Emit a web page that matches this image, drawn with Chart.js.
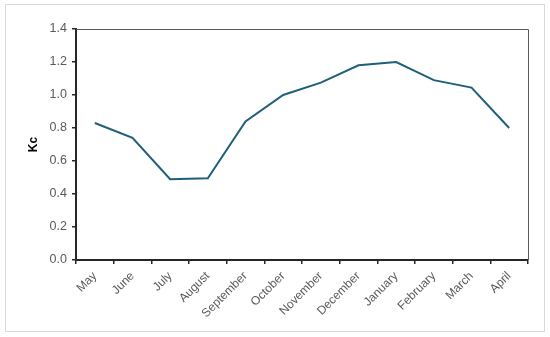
<!DOCTYPE html>
<html>
<head>
<meta charset="utf-8">
<script src="https://cdn.jsdelivr.net/npm/chart.js@4/dist/chart.umd.min.js"></script>
<style>
  body { margin: 0; background: #fff; }
  #frame { position: absolute; left: 5px; top: 4px; width: 538px; height: 326px; border: 1px solid #d9d9d9; }
  #wrap { position: absolute; left: 0; top: 0; width: 550px; height: 337px; }
</style>
</head>
<body>
<div id="frame"></div>
<div id="wrap"><canvas id="myChart" width="550" height="337"></canvas></div>
<script>
const months = ['May', 'June', 'July', 'August', 'September', 'October', 'November', 'December', 'January', 'February', 'March', 'April'];
const kcValues = [0.83, 0.74, 0.49, 0.495, 0.84, 1.0, 1.075, 1.18, 1.20, 1.09, 1.045, 0.80];
const yMin = 0, yMax = 1.4, yStep = 0.2;

// top and right sides of the plot box
const boxLines = {
  id: 'boxLines',
  afterDraw(chart) {
    const a = chart.chartArea, c = chart.ctx;
    c.save();
    c.strokeStyle = '#595959';
    c.lineWidth = 1;
    c.beginPath();
    c.moveTo(a.left, a.top + 0.5);
    c.lineTo(a.right + 0.5, a.top + 0.5);
    c.lineTo(a.right + 0.5, a.bottom);
    c.stroke();
    c.restore();
  }
};

const ctx = document.getElementById('myChart');
new Chart(ctx, {
  type: 'line',
  data: {
    labels: months,
    datasets: [{
      label: 'Kc',
      data: kcValues,
      borderColor: '#1f5f7b',
      borderWidth: 2,
      pointRadius: 0,
      tension: 0,
      fill: false
    }]
  },
  options: {
    responsive: false,
    animation: false,
    layout: { padding: { left: 26, right: 22, top: 29, bottom: 17 } },
    plugins: { legend: { display: false }, tooltip: { enabled: false } },
    scales: {
      x: {
        offset: true,
        afterFit: s => { s.height = 60; },
        grid: { offset: true, drawOnChartArea: false, drawTicks: true, tickLength: 4, color: '#262626', lineWidth: 1.5 },
        border: { display: true, color: '#262626', width: 2 },
        ticks: { color: '#595959', font: { family: 'Liberation Sans', size: 12 }, maxRotation: 45, minRotation: 45, padding: 5 }
      },
      y: {
        min: yMin,
        max: yMax,
        afterFit: s => { s.width = 50; },
        grid: { drawOnChartArea: false, drawTicks: true, tickLength: 4, color: '#262626', lineWidth: 1.5 },
        border: { display: true, color: '#262626', width: 2 },
        ticks: { stepSize: yStep, color: '#595959', font: { family: 'Liberation Sans', size: 12.5 }, padding: 5,
          callback: v => v.toFixed(1) },
        title: { display: true, text: 'Kc', color: '#000', font: { family: 'Liberation Sans', size: 12, weight: 'bold' }, padding: 0 }
      }
    }
  },
  plugins: [boxLines]
});
</script>
</body>
</html>
